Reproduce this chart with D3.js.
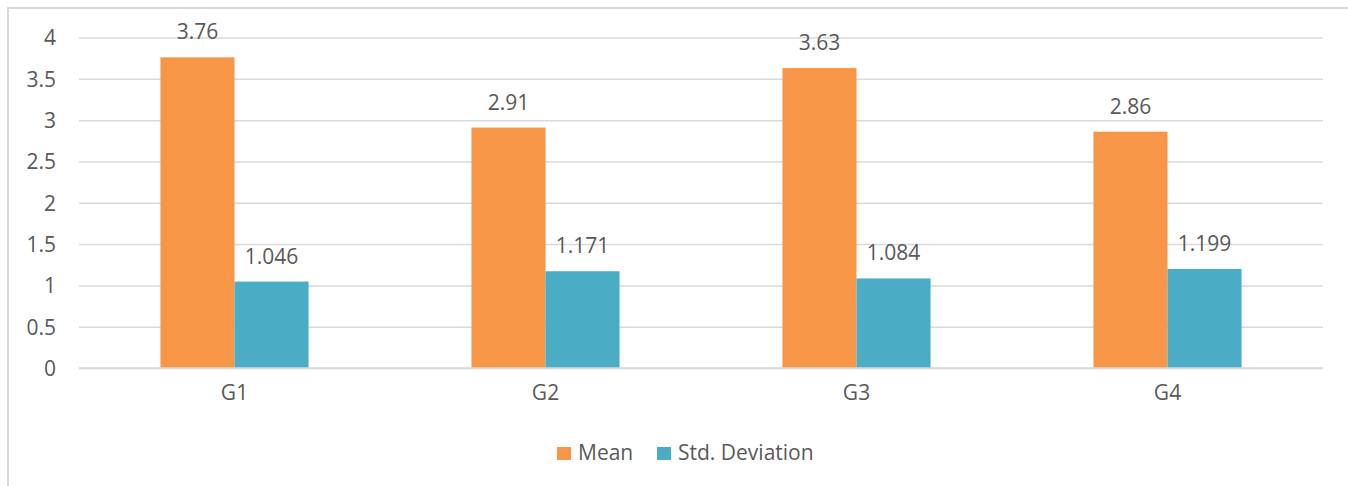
<!DOCTYPE html>
<html><head><meta charset="utf-8">
<script src="https://cdn.jsdelivr.net/npm/d3@7"></script>
<style>body{margin:0;background:#fff}svg{display:block}text{font-family:"Open Sans","Noto Sans",sans-serif;fill:#595959}</style>
</head><body>
<svg id="c" width="1348" height="486"></svg>
<script>
const categories = ["G1","G2","G3","G4"];
const seriesNames = ["Mean","Std. Deviation"];
const meanValues = [3.76, 2.91, 3.63, 2.86];
const stdValues = [1.046, 1.171, 1.084, 1.199];
const meanLabels = ["3.76","2.91","3.63","2.86"];
const stdLabels = ["1.046","1.171","1.084","1.199"];
const yTicks = [0,0.5,1,1.5,2,2.5,3,3.5,4];
const colors = ["#F79646","#4BACC6"];
const FONT = '"Open Sans","Noto Sans",sans-serif';

const svg = d3.select("#c");
svg.append("rect").attr("x",8).attr("y",8).attr("width",1400).attr("height",600)
  .attr("fill","none").attr("stroke","#D9D9D9").attr("stroke-width",2);

const x0 = d3.scaleBand().domain(categories).range([79,1323]);
const x1 = d3.scaleBand().domain(seriesNames).range([0,x0.bandwidth()]).paddingOuter(1.1);
const y = d3.scaleLinear().domain([0,4]).range([368,37.5]);

const gAxis = svg.append("g").attr("transform","translate(79,0)")
  .call(d3.axisLeft(y).tickValues(yTicks).tickSize(-1244).tickPadding(23).tickFormat(d=>String(d)));
gAxis.select(".domain").remove();
gAxis.selectAll("line").attr("stroke","#D9D9D9").attr("stroke-width",1.5);
gAxis.selectAll("text").attr("font-size",21).attr("fill","#595959").attr("font-family",FONT).attr("dy","0.35em");

const data = categories.map((c,i)=>({c, vals:[
  {s:seriesNames[0], v:meanValues[i], l:meanLabels[i]},
  {s:seriesNames[1], v:stdValues[i], l:stdLabels[i]}]}));

const groups = svg.append("g").selectAll("g").data(data).join("g")
  .attr("transform",d=>`translate(${x0(d.c)},0)`);
groups.selectAll("rect").data(d=>d.vals).join("rect")
  .attr("x",d=>x1(d.s)).attr("width",x1.bandwidth())
  .attr("y",d=>y(d.v)).attr("height",d=>y(0)-y(d.v))
  .attr("fill",(d,i)=>colors[i]);
groups.selectAll("text").data(d=>d.vals).join("text")
  .attr("x",d=>x1(d.s)+x1.bandwidth()/2).attr("y",d=>y(d.v)-18)
  .attr("text-anchor","middle").attr("font-size",21).text(d=>d.l);

svg.append("line").attr("x1",79).attr("x2",1323).attr("y1",y(0)).attr("y2",y(0))
  .attr("stroke","#D9D9D9").attr("stroke-width",1.5);

const gx = svg.append("g").attr("transform",`translate(0,${y(0)})`)
  .call(d3.axisBottom(x0).tickSize(0).tickPadding(17));
gx.select(".domain").remove();
gx.selectAll("text").attr("font-size",21).attr("fill","#595959").attr("font-family",FONT);

const legendX = [557, 657];
const lg = svg.append("g").selectAll("g").data(seriesNames).join("g")
  .attr("transform",(d,i)=>`translate(${legendX[i]},447)`);
lg.append("rect").attr("width",14).attr("height",13).attr("fill",(d,i)=>colors[i]);
lg.append("text").attr("x",21).attr("y",12.5).attr("font-size",21).text(d=>d);
</script>
</body></html>
